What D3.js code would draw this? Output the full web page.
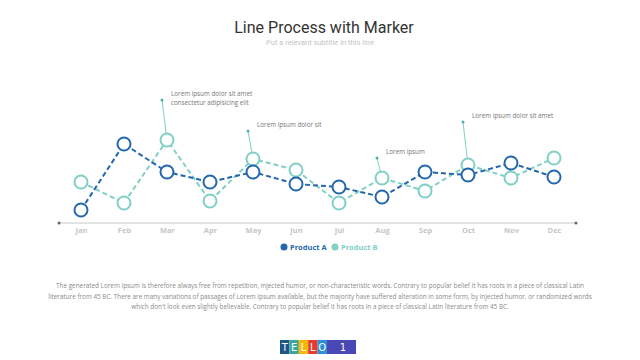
<!DOCTYPE html>
<html><head><meta charset="utf-8">
<script src="https://cdn.jsdelivr.net/npm/d3@7"></script>
<style>html,body{margin:0;padding:0;background:#fff;}svg{display:block;}</style>
</head><body>
<script>
const months = ["Jan","Feb","Mar","Apr","May","Jun","Jul","Aug","Sep","Oct","Nov","Dec"];
const productA = [13,79,51,41,51,39,36,26,51,48,60,46];
const productB = [41,20,83,22,64,53,20,45,32,58,45,65];
const seriesNames = ["Product A","Product B"];
const annotations = [
  {month:"Mar", lines:["Lorem ipsum dolor sit amet","consectetur adipisicing elit"], height:123},
  {month:"May", lines:["Lorem ipsum dolor sit"], height:92},
  {month:"Aug", lines:["Lorem ipsum"], height:65},
  {month:"Oct", lines:["Lorem ipsum dolor sit amet"], height:101}
];
const paragraph = [
  "The generated Lorem Ipsum is therefore always free from repetition, injected humor, or non-characteristic words. Contrary to popular belief It has roots in a piece of classical Latin",
  "literature from 45 BC. There are many variations of passages of Lorem Ipsum available, but the majority have suffered alteration in some form, by injected humor, or randomized words",
  "which don't look even slightly believable. Contrary to popular belief It has roots in a piece of classical Latin literature from 45 BC."
];
const logoLetters = ["T","E","L","L","O"];
const logoNumber = "1";

const W=640,H=360;
const colA="#2467ad", colB="#80d0c6";
const svg=d3.select("body").append("svg").attr("width",W).attr("height",H);

svg.append("text").attr("x",324).attr("y",33).attr("text-anchor","middle")
  .attr("font-family","Roboto, 'Open Sans', sans-serif").attr("font-size",16).attr("fill","#333")
  .text("Line Process with Marker");
svg.append("text").attr("x",320).attr("y",45).attr("text-anchor","middle")
  .attr("font-family","Roboto, sans-serif").attr("font-size",7.5).attr("fill","#c4c4c4")
  .text("Put a relevant subtitle in this line");

const x=d3.scalePoint().domain(months).range([81,554]);
const y=d3.scaleLinear().domain([0,150]).range([223,73]);

// axis
const axisG=svg.append("g").attr("transform","translate(0,223)");
const xAxis=d3.axisBottom(x).tickSize(0).tickPadding(5);
axisG.call(xAxis);
axisG.select(".domain").remove();
axisG.selectAll("text").attr("font-family","'Open Sans', sans-serif").attr("font-size",7.5)
  .attr("font-weight","bold").attr("fill","#c6c6c6");
svg.append("line").attr("x1",x.range()[0]-22).attr("x2",x.range()[1]+22).attr("y1",y(0)).attr("y2",y(0))
  .attr("stroke","#c8c8c8").attr("stroke-width",1);
[x.range()[0]-22,x.range()[1]+22].forEach(px=>svg.append("circle").attr("cx",px).attr("cy",y(0)).attr("r",1.5).attr("fill","#666"));

// annotations
const r=6.5;
annotations.forEach(a=>{
  const i=months.indexOf(a.month);
  const px=x(a.month), py=y(productB[i]);
  const tx=px-5, ty=y(a.height);
  const dx=tx-px, dy=ty-py, len=Math.hypot(dx,dy);
  svg.append("line").attr("x1",px+dx/len*r).attr("y1",py+dy/len*r).attr("x2",tx).attr("y2",ty)
    .attr("stroke",colB).attr("stroke-width",1);
  svg.append("circle").attr("cx",tx).attr("cy",ty).attr("r",1.5).attr("fill","#4fb3a8");
  a.lines.forEach((l,k)=>svg.append("text").attr("x",tx+9).attr("y",ty-4+k*9)
    .attr("font-family","'Open Sans', sans-serif").attr("font-size",6.3).attr("fill","#777").text(l));
});

const line=d3.line().x((d,i)=>x(months[i])).y(d=>y(d));
[[productB,colB],[productA,colA]].forEach(([data,c])=>{
  svg.append("path").datum(data).attr("d",line).attr("fill","none").attr("stroke",c)
    .attr("stroke-width",2).attr("stroke-dasharray","5,3");
  svg.selectAll(null).data(data).enter().append("circle")
    .attr("cx",(d,i)=>x(months[i])).attr("cy",d=>y(d)).attr("r",r)
    .attr("fill","#fff").attr("stroke",c).attr("stroke-width",2);
});

// legend
const legend=[{name:seriesNames[0],c:colA,x:284},{name:seriesNames[1],c:colB,x:335}];
legend.forEach(l=>{
  svg.append("circle").attr("cx",l.x).attr("cy",247).attr("r",3.5).attr("fill",l.c);
  svg.append("text").attr("x",l.x+6).attr("y",250).attr("font-family","'Open Sans', sans-serif")
    .attr("font-size",7.5).attr("font-weight","bold").attr("fill",l.c).text(l.name);
});

paragraph.forEach((p,k)=>svg.append("text").attr("x",320).attr("y",288+k*10.5).attr("text-anchor","middle")
  .attr("font-family","'Open Sans', sans-serif").attr("font-size",6.35).attr("fill","#8a8a8a").text(p));

// logo
const logoCols=["#1d5785","#3ea59c","#f5b800","#e63a2e","#2d8fd5"];
logoLetters.forEach((L,k)=>{
  svg.append("rect").attr("x",280+k*9.4).attr("y",340).attr("width",9.4).attr("height",14).attr("fill",logoCols[k]);
  svg.append("text").attr("x",280+k*9.4+4.7).attr("y",351).attr("text-anchor","middle")
    .attr("font-family","'DejaVu Sans', sans-serif").attr("font-size",10).attr("fill","#fff").text(L);
});
svg.append("rect").attr("x",327).attr("y",340).attr("width",29).attr("height",14).attr("fill","#4a48b4");
svg.append("text").attr("x",343).attr("y",351).attr("text-anchor","middle")
  .attr("font-family","'DejaVu Sans', sans-serif").attr("font-size",10).attr("fill","#fff").text(logoNumber);
</script>
</body></html>
